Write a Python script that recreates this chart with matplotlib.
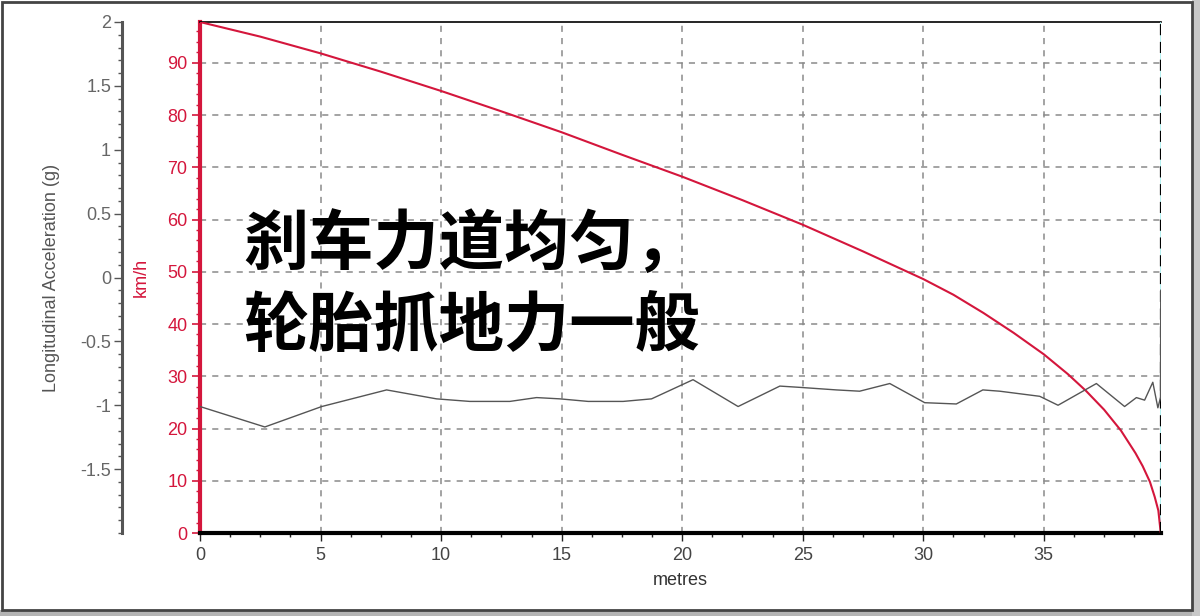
import matplotlib
matplotlib.use("Agg")
import matplotlib.pyplot as plt
from matplotlib.ticker import MultipleLocator, FixedLocator
from matplotlib.patches import Rectangle

# distance (m) vs speed (km/h)
dist_speed = [0, 2.5, 5, 7.5, 10, 12.5, 15, 17.5, 20, 22.5, 25, 27.5, 30,
              31.25, 32.5, 33.75, 35, 36, 36.75, 37.5, 38.2, 38.8, 39.1,
              39.4, 39.6, 39.75, 39.85]
speed = [97.8, 95.0, 91.8, 88.3, 84.6, 80.7, 76.7, 72.4, 68.2, 63.7, 59.0,
         53.9, 48.6, 45.6, 42.1, 38.3, 34.2, 30.4, 27.2, 23.6, 19.6, 15.3,
         12.8, 9.8, 6.9, 4.3, 0.0]

# distance (m) vs longitudinal acceleration (g), grey trace
dist_acc = [0, 2.69, 5.05, 7.74, 9.81, 11.19, 12.85, 13.96, 14.93, 16.10,
            17.55, 18.73, 20.45, 22.32, 24.05, 24.88, 26.40, 27.36, 28.61,
            30.06, 31.37, 32.47, 33.17, 34.00, 34.83, 35.59, 37.18, 38.35,
            38.84, 39.18, 39.52, 39.73, 39.84, 39.85]
accel = [-1.01, -1.17, -1.01, -0.88, -0.95, -0.97, -0.97, -0.94, -0.95,
         -0.97, -0.97, -0.95, -0.80, -1.01, -0.85, -0.86, -0.88, -0.89,
         -0.83, -0.98, -0.99, -0.88, -0.89, -0.91, -0.93, -1.00, -0.83,
         -1.01, -0.94, -0.96, -0.82, -1.02, -0.94, -0.10]

x_ticks = [0, 5, 10, 15, 20, 25, 30, 35]
speed_ticks = [0, 10, 20, 30, 40, 50, 60, 70, 80, 90]
g_ticks = [2, 1.5, 1, 0.5, 0, -0.5, -1, -1.5]
g_labels = ["2", "1.5", "1", "0.5", "0", "-0.5", "-1", "-1.5"]

x_max = 39.86
speed_max = 97.8

red = "#d4163c"
plt.rcParams["font.family"] = ["Liberation Sans", "DejaVu Sans"]
plt.rcParams["font.size"] = 13

fig = plt.figure(figsize=(12, 6.16), dpi=100)
ax = fig.add_axes([200 / 1200, 1 - 533 / 616, 961 / 1200, 511 / 616])

# grid
for xv in x_ticks[1:]:
    ax.axvline(xv, color="#8a8a8a", lw=1.1, ls=(0, (4, 4)), zorder=1)
for yv in speed_ticks[1:]:
    ax.axhline(yv, color="#8a8a8a", lw=1.1, ls=(0, (4, 4)), zorder=1)

ax.plot(dist_speed, speed, color=red, lw=1.5, zorder=4)

ax.set_xlim(0, x_max)
ax.set_ylim(0, speed_max)
ax.xaxis.set_major_locator(FixedLocator(x_ticks))
ax.xaxis.set_minor_locator(MultipleLocator(1.25))
ax.yaxis.set_major_locator(FixedLocator(speed_ticks))
ax.yaxis.set_minor_locator(MultipleLocator(2))

ax.tick_params(axis="x", which="major", colors="#222", labelcolor="#444",
               length=6, width=1, pad=4)
ax.tick_params(axis="x", which="minor", colors="#222", length=3, width=1)
ax.tick_params(axis="y", which="major", colors=red, labelcolor=red,
               length=6, width=1.2, pad=3)
ax.tick_params(axis="y", which="minor", colors=red, length=3, width=1)

ax.spines["left"].set_color(red)
ax.spines["left"].set_linewidth(3)
ax.spines["bottom"].set_color("black")
ax.spines["bottom"].set_linewidth(3)
ax.spines["top"].set_color("black")
ax.spines["top"].set_linewidth(1.2)
ax.spines["right"].set_visible(False)

# cursor line at the right edge
ax.axvline(x_max - 0.02, color="black", lw=1.6, ls=(0, (5, 3)), zorder=5)
ax.axvline(x_max, color="#a8f0f0", lw=1.2, zorder=3)

ax.set_xlabel("metres", color="#333", labelpad=6)
ax.set_ylabel("km/h", color=red)
ax.yaxis.set_label_coords(-0.052, 0.5)

# acceleration axis, offset to the left
ax2 = ax.twinx()
ax2.plot(dist_acc, accel, color="#555555", lw=1.0, zorder=3)
ax2.set_ylim(-2, 2)
ax2.yaxis.set_ticks_position("left")
ax2.yaxis.set_label_position("left")
ax2.spines["left"].set_position(("axes", -0.081))
for s in ["right", "top", "bottom"]:
    ax2.spines[s].set_visible(False)
ax2.spines["left"].set_color("#555")
ax2.spines["left"].set_linewidth(2.2)
ax2.yaxis.set_major_locator(FixedLocator(g_ticks))
ax2.set_yticklabels(g_labels)
ax2.yaxis.set_minor_locator(MultipleLocator(0.1))
ax2.tick_params(axis="y", which="major", colors="#555", labelcolor="#666",
                length=6, width=1, pad=2)
ax2.tick_params(axis="y", which="minor", colors="#555", length=3, width=1)
ax2.set_ylabel("Longitudinal Acceleration (g)", color="#555")
ax2.yaxis.set_label_coords(-0.1457, 0.5)

# overlay caption
cjk = ["Noto Sans CJK SC", "DejaVu Sans"]
fig.text(243 / 1200, 1 - 244 / 616, "刹车力道均匀，", family=cjk,
         fontsize=47, fontweight="heavy", color="black", va="center",
         ha="left", zorder=10)
fig.text(243 / 1200, 1 - 326 / 616, "轮胎抓地力一般", family=cjk,
         fontsize=47, fontweight="heavy", color="black", va="center",
         ha="left", zorder=10)

# window frame
fig.patches.append(Rectangle((0, 0), 1, 6 / 616, transform=fig.transFigure,
                             facecolor="#b4b4b4", edgecolor="none"))
fig.patches.append(Rectangle((1192 / 1200, 0), 8 / 1200, 1,
                             transform=fig.transFigure,
                             facecolor="#c8c8c8", edgecolor="none"))
fig.patches.append(Rectangle((2 / 1200, 6 / 616), 1190 / 1200, 608 / 616,
                             transform=fig.transFigure, fill=False,
                             edgecolor="#444", lw=2))

fig.savefig("out.png", dpi=100)
